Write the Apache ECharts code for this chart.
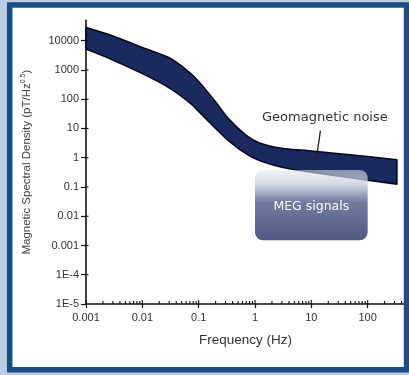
<!DOCTYPE html>
<html>
<head>
<meta charset="utf-8">
<script src="https://cdn.jsdelivr.net/npm/echarts@6/dist/echarts.min.js"></script>
<style>
  html, body { margin: 0; padding: 0; background: #b9cde0; }
  #chart { width: 409px; height: 375px; }
</style>
</head>
<body>
<div id="chart"></div>
<script>
// Geomagnetic noise band: frequency samples (Hz) with upper and lower edges (pT/Hz^0.5)
const freq = [0.001, 0.003, 0.01, 0.03, 0.07, 0.1, 0.2, 0.35, 0.7, 1.2, 3, 10, 100, 330];
const noiseUpper = [28000, 14500, 5800, 2600, 800, 400, 80, 20, 5.8, 3.2, 2.1, 1.7, 1.1, 0.85];
const noiseLower = [5200, 2200, 750, 245, 75, 38, 10, 3.6, 1.35, 0.8, 0.47, 0.32, 0.17, 0.125];

// MEG signal region: frequency span (Hz) and amplitude span (pT/Hz^0.5)
const megFreq = [1, 100];
const megAmp = [0.0015, 0.38];

// Axis tick labels, one per decade
const xTickLabels = ['0.001', '0.01', '0.1', '1', '10', '100'];
const yTickLabels = ['1E-5', '1E-4', '0.001', '0.01', '0.1', '1', '10', '100', '1000', '10000'];

const X_MIN = 0.001, X_MAX = 460, Y_MIN = 1e-5, Y_MAX = 50000;
const AXIS_COLOR = '#111';
const LABEL_FONT = '"Liberation Sans", Arial, sans-serif';
const NOTE_FONT = '"DejaVu Sans", Verdana, sans-serif';

// Extra tick marks: log minor ticks on the frequency axis and the inner halves of major ticks
const tickMarks = [];
for (let d = -3; d <= 2; d++) {
  tickMarks.push([Math.pow(10, d), Y_MIN, 1]);
  for (let m = 2; m <= 9; m++) {
    if (m * Math.pow(10, d) < X_MAX) tickMarks.push([m * Math.pow(10, d), Y_MIN, 0]);
  }
}
for (let k = -4; k <= 4; k++) tickMarks.push([X_MIN, Math.pow(10, k), 2]);

// Smooth curve through screen points (Catmull-Rom as cubic Bezier segments)
function curveThrough(pts) {
  let d = '';
  for (let i = 0; i < pts.length - 1; i++) {
    const p0 = pts[Math.max(i - 1, 0)], p1 = pts[i], p2 = pts[i + 1], p3 = pts[Math.min(i + 2, pts.length - 1)];
    const c1 = [p1[0] + (p2[0] - p0[0]) / 6, p1[1] + (p2[1] - p0[1]) / 6];
    const c2 = [p2[0] - (p3[0] - p1[0]) / 6, p2[1] - (p3[1] - p1[1]) / 6];
    d += ' C' + c1[0] + ' ' + c1[1] + ' ' + c2[0] + ' ' + c2[1] + ' ' + p2[0] + ' ' + p2[1];
  }
  return d;
}

function decadeIndex(v, offset) { return Math.round(Math.log10(v)) + offset; }

const chart = echarts.init(document.getElementById('chart'), null, { renderer: 'canvas' });

chart.setOption({
  animation: false,
  backgroundColor: '#b9cde0',
  graphic: {
    elements: [
      { type: 'rect', z: -100, shape: { x: 9.7, y: 5, width: 396.8, height: 364.7 },
        style: { fill: '#ffffff' } },
      { type: 'rect', z: 100, shape: { x: 9.7, y: 5, width: 396.8, height: 364.7 },
        style: { fill: null, stroke: '#1c4d85', lineWidth: 5.5 } }
    ]
  },
  grid: { left: 86, right: 4, top: 20.25, bottom: 71, outerBoundsMode: 'none' },
  xAxis: {
    type: 'log', logBase: 10, min: X_MIN, max: X_MAX, splitNumber: 6,
    axisLine: { lineStyle: { color: AXIS_COLOR, width: 1.6 } },
    axisTick: { length: 4, lineStyle: { color: AXIS_COLOR, width: 1.2 } },
    axisLabel: {
      color: '#333', fontSize: 11, margin: 8, fontFamily: LABEL_FONT, showMaxLabel: false,
      formatter: v => xTickLabels[decadeIndex(v, 3)] || ''
    },
    splitLine: { show: false },
    name: 'Frequency (Hz)', nameLocation: 'middle', nameGap: 29,
    nameTextStyle: { color: '#333', fontSize: 13.5, fontFamily: LABEL_FONT }
  },
  yAxis: {
    type: 'log', logBase: 10, min: Y_MIN, max: Y_MAX, splitNumber: 10,
    axisLine: { lineStyle: { color: AXIS_COLOR, width: 1.6 } },
    axisTick: { length: 5, lineStyle: { color: AXIS_COLOR, width: 1.2 } },
    axisLabel: {
      color: '#333', fontSize: 11, margin: 7, fontFamily: LABEL_FONT, showMaxLabel: false,
      formatter: v => yTickLabels[decadeIndex(v, 5)] || ''
    },
    splitLine: { show: false },
    name: '{t|Magnetic Spectral Density (pT/Hz}{s|0.5}{t|)}',
    nameLocation: 'middle', nameGap: 53,
    nameTextStyle: {
      rich: {
        t: { color: '#444', fontSize: 11.5, fontFamily: LABEL_FONT },
        s: { color: '#444', fontSize: 7, fontFamily: LABEL_FONT, verticalAlign: 'top', padding: [0, 0, 6, 0] }
      }
    }
  },
  series: [
    {
      // noise band drawn as one closed smooth shape
      type: 'custom', z: 2, clip: false,
      dimensions: ['freq', 'upper', 'lower'],
      encode: { x: 0, y: 1 },
      data: freq.map((f, i) => [f, noiseUpper[i], noiseLower[i]]),
      renderItem(params, api) {
        if (params.dataIndex !== 0) return null;
        const up = freq.map((f, i) => api.coord([f, noiseUpper[i]]));
        const low = freq.map((f, i) => api.coord([f, noiseLower[i]])).reverse();
        const d = 'M' + up[0][0] + ' ' + up[0][1] + curveThrough(up) +
          ' L' + low[0][0] + ' ' + low[0][1] + curveThrough(low) + ' Z';
        return {
          type: 'path', shape: { pathData: d },
          style: { fill: '#1b2a5e', stroke: '#050a18', lineWidth: 1.6, lineJoin: 'round' }
        };
      }
    },
    {
      // MEG signal region
      type: 'custom', z: 3, clip: false,
      encode: { x: [0, 2], y: [1, 3] },
      data: [[megFreq[0], megAmp[1], megFreq[1], megAmp[0]]],
      renderItem(params, api) {
        const a = api.coord([api.value(0), api.value(1)]);
        const b = api.coord([api.value(2), api.value(3)]);
        return {
          type: 'group',
          children: [
            {
              type: 'rect',
              shape: { x: a[0], y: a[1], width: b[0] - a[0], height: b[1] - a[1], r: 8 },
              style: {
                fill: {
                  type: 'linear', x: 0, y: 0, x2: 0, y2: 1,
                  colorStops: [
                    { offset: 0, color: 'rgba(225,229,238,0.55)' },
                    { offset: 0.2, color: 'rgba(200,206,222,0.8)' },
                    { offset: 0.45, color: 'rgba(105,117,155,0.95)' },
                    { offset: 1, color: 'rgba(74,86,128,0.97)' }
                  ]
                }
              }
            },
            {
              type: 'text',
              x: (a[0] + b[0]) / 2, y: (a[1] + b[1]) / 2 + 2,
              style: {
                text: 'MEG signals', fill: '#ffffff', font: '12.5px ' + NOTE_FONT,
                align: 'center', verticalAlign: 'middle'
              }
            }
          ]
        };
      }
    },
    {
      // label and pointer for the noise band
      type: 'custom', z: 5, clip: false,
      encode: { x: 0, y: 1 },
      data: [[17.4, 24]],
      renderItem(params, api) {
        const t = api.coord([api.value(0), api.value(1)]);
        const p1 = api.coord([14.5, 8.4]);
        const p2 = api.coord([12.2, 0.83]);
        return {
          type: 'group',
          children: [
            { type: 'text', x: t[0], y: t[1],
              style: { text: 'Geomagnetic noise', fill: '#333', font: '13px ' + NOTE_FONT,
                       align: 'center', verticalAlign: 'middle' } },
            { type: 'line', shape: { x1: p1[0], y1: p1[1], x2: p2[0], y2: p2[1] },
              style: { stroke: '#222', lineWidth: 1.3 } }
          ]
        };
      }
    },
    {
      // minor ticks and inner halves of major ticks
      type: 'custom', z: 4, clip: false,
      encode: { x: 0, y: 1 },
      data: tickMarks,
      renderItem(params, api) {
        const kind = api.value(2);
        const p = api.coord([api.value(0), api.value(1)]);
        const style = { stroke: AXIS_COLOR, lineWidth: 1.1 };
        if (kind === 2) {
          return { type: 'line', shape: { x1: p[0], y1: p[1], x2: p[0] + 2.5, y2: p[1] }, style };
        }
        const len = kind === 1 ? 4 : 3;
        return { type: 'line', shape: { x1: p[0], y1: p[1], x2: p[0], y2: p[1] - len }, style };
      }
    }
  ]
});
</script>
</body>
</html>
